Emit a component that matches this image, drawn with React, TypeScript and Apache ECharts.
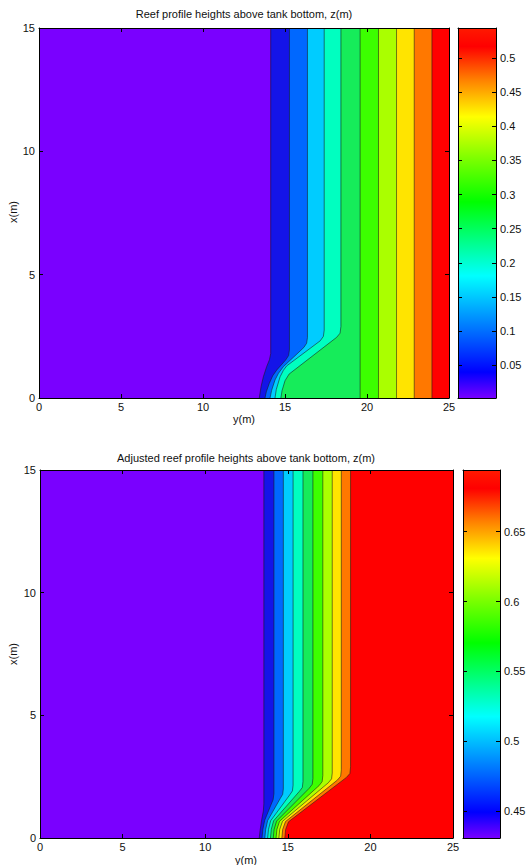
import React, { useEffect, useRef } from "react";
import * as echarts from "echarts";

// ---------- text ----------
const topTitle = "Reef profile heights above tank bottom, z(m)";
const bottomTitle = "Adjusted reef profile heights above tank bottom, z(m)";
const horizName = "y(m)";
const vertName = "x(m)";

// ---------- colours ----------
// fill colour of each band, from the lowest (below the first level) to the highest
const bandColors = [
  "#7a00ff", "#1414e8", "#0068ff", "#00ccff", "#00ffc0",
  "#16ec5a", "#3cff00", "#aaff00", "#ffe400", "#ff7800", "#ff0000",
];
// colormap of the colour bars (fraction of range, colour)
const colormapStops: [number, string][] = [
  [0, "#7800ff"], [0.07, "#0000ff"], [0.17, "#0064ff"], [0.33, "#00ffff"],
  [0.43, "#00ff80"], [0.53, "#00ff00"], [0.65, "#80ff00"], [0.76, "#ffff00"],
  [0.86, "#ff8000"], [0.95, "#ff0000"], [1, "#ff1a00"],
];

// ---------- top chart ----------
const topLevels = [0.05, 0.1, 0.15, 0.2, 0.25, 0.3, 0.35, 0.4, 0.45, 0.5];
const topRange = [0.002, 0.544];
const topBarTicks = [0.05, 0.1, 0.15, 0.2, 0.25, 0.3, 0.35, 0.4, 0.45, 0.5];
// contour lines as [y (horizontal), x (vertical)] points, from x = 0 to x = 15
const topContours: number[][][] = [
  [[13.43, 0], [13.54, 0.46], [13.68, 0.86], [13.88, 1.27], [14.05, 1.55], [14.13, 1.8], [14.13, 15]],
  [[13.78, 0], [13.86, 0.25], [14.04, 0.59], [14.25, 0.9], [14.49, 1.13], [15.05, 1.55], [15.22, 1.72], [15.27, 1.95], [15.27, 15]],
  [[14.09, 0], [14.18, 0.3], [14.39, 0.73], [14.6, 1.0], [14.9, 1.27], [16.15, 2.05], [16.32, 2.22], [16.37, 2.45], [16.37, 15]],
  [[14.39, 0], [14.47, 0.35], [14.7, 0.86], [14.9, 1.12], [15.1, 1.3], [17.15, 2.32], [17.34, 2.5], [17.39, 2.75], [17.39, 15]],
  [[14.75, 0], [14.82, 0.3], [15.0, 0.7], [15.25, 0.97], [18.15, 2.46], [18.36, 2.63], [18.41, 2.9], [18.41, 15]],
  [[19.58, 0], [19.58, 15]],
  [[20.7, 0], [20.7, 15]],
  [[21.8, 0], [21.8, 15]],
  [[22.88, 0], [22.88, 15]],
  [[23.96, 0], [23.96, 15]],
];

// ---------- bottom chart ----------
const bottomLevels = [0.45, 0.475, 0.5, 0.525, 0.55, 0.575, 0.6, 0.625, 0.65, 0.675];
const bottomRange = [0.431, 0.694];
const bottomBarTicks = [0.45, 0.5, 0.55, 0.6, 0.65];
const bottomContours: number[][][] = [
  [[13.27, 0], [13.32, 0.3], [13.42, 0.75], [13.52, 1.1], [13.55, 1.4], [13.55, 15]],
  [[13.44, 0], [13.49, 0.35], [13.6, 0.72], [13.98, 1.35], [14.11, 1.56], [14.16, 1.8], [14.16, 15]],
  [[13.61, 0], [13.66, 0.35], [13.78, 0.71], [14.55, 1.62], [14.69, 1.78], [14.73, 2.0], [14.73, 15]],
  [[13.78, 0], [13.83, 0.35], [13.96, 0.7], [15.12, 1.76], [15.28, 1.92], [15.32, 2.15], [15.32, 15]],
  [[13.95, 0], [14.0, 0.35], [14.14, 0.7], [15.7, 1.9], [15.88, 2.06], [15.92, 2.3], [15.92, 15]],
  [[14.12, 0], [14.17, 0.35], [14.32, 0.69], [16.3, 2.03], [16.48, 2.19], [16.52, 2.42], [16.52, 15]],
  [[14.29, 0], [14.34, 0.35], [14.5, 0.68], [16.9, 2.14], [17.08, 2.3], [17.12, 2.55], [17.12, 15]],
  [[14.46, 0], [14.51, 0.35], [14.68, 0.68], [17.45, 2.25], [17.65, 2.41], [17.69, 2.65], [17.69, 15]],
  [[14.64, 0], [14.69, 0.35], [14.86, 0.67], [18.0, 2.36], [18.2, 2.52], [18.24, 2.78], [18.24, 15]],
  [[14.82, 0], [14.87, 0.35], [15.04, 0.66], [18.55, 2.47], [18.76, 2.63], [18.8, 2.9], [18.8, 15]],
];

const FONT_FAMILY = '"Liberation Sans", Arial, Helvetica, sans-serif';
const TEXT_COLOR = "#111";

function mainX(gridIndex: number, position: "bottom" | "top", labels: boolean) {
  return {
    type: "value", gridIndex, position, min: 0, max: 25, interval: 5, z: 10,
    axisLine: { show: true, onZero: false, lineStyle: { color: "#000", width: 1 } },
    axisTick: { show: true, inside: true, length: 4, lineStyle: { color: "#000", width: 1 } },
    axisLabel: { show: labels, margin: 3, fontSize: 11, fontFamily: FONT_FAMILY, color: TEXT_COLOR },
    splitLine: { show: false },
  };
}
function mainY(gridIndex: number, position: "left" | "right", labels: boolean) {
  return {
    type: "value", gridIndex, position, min: 0, max: 15, interval: 5, z: 10,
    axisLine: { show: true, onZero: false, lineStyle: { color: "#000", width: 1 } },
    axisTick: { show: true, inside: true, length: 4, lineStyle: { color: "#000", width: 1 } },
    axisLabel: { show: labels, margin: 4, fontSize: 11, fontFamily: FONT_FAMILY, color: TEXT_COLOR },
    splitLine: { show: false },
  };
}
function barX(gridIndex: number, position: "bottom" | "top") {
  return {
    type: "value", gridIndex, position, min: 0, max: 1, z: 10,
    axisLine: { show: true, onZero: false, lineStyle: { color: "#000", width: 1 } },
    axisTick: { show: false }, axisLabel: { show: false }, splitLine: { show: false },
  };
}
function barY(gridIndex: number, position: "left" | "right", range: number[], ticks: number[], labels: boolean) {
  return {
    type: "value", gridIndex, position, min: range[0], max: range[1], z: 10,
    axisLine: { show: true, onZero: false, lineStyle: { color: "#000", width: 1 } },
    axisTick: { show: true, inside: true, length: 4, customValues: ticks, lineStyle: { color: "#000", width: 1 } },
    axisLabel: {
      show: labels, margin: 4, customValues: ticks, fontSize: 11, fontFamily: FONT_FAMILY, color: TEXT_COLOR,
      formatter: (v: number) => String(Math.round(v * 1000) / 1000),
    },
    splitLine: { show: false },
  };
}

function contourSeries(axisIndex: number, levels: number[], contours: number[][][]) {
  return {
    type: "custom", xAxisIndex: axisIndex, yAxisIndex: axisIndex, clip: true, z: 2,
    data: levels.map((lv, i) => [i, lv]),
    renderItem: (params: any, api: any) => {
      const i = api.value(0) as number;
      const pts = contours[i].map((p) => api.coord(p));
      const cs = params.coordSys;
      const below = cs.y + cs.height + 6;
      const above = cs.y - 6;
      const right = cs.x + cs.width + 6;
      const poly = [[pts[0][0], below], ...pts, [pts[pts.length - 1][0], above], [right, above], [right, below]];
      return {
        type: "polygon",
        shape: { points: poly },
        style: { fill: bandColors[i + 1], stroke: "rgba(25,25,25,0.8)", lineWidth: 0.7 },
      };
    },
  };
}

function colorbarSeries(xIndex: number, yIndex: number, range: number[]) {
  return {
    type: "custom", xAxisIndex: xIndex, yAxisIndex: yIndex, z: 2,
    data: [[0, range[0], 1, range[1]]],
    renderItem: (_params: any, api: any) => {
      const p0 = api.coord([api.value(0), api.value(1)]);
      const p1 = api.coord([api.value(2), api.value(3)]);
      return {
        type: "rect",
        shape: { x: p0[0], y: p1[1], width: p1[0] - p0[0], height: p0[1] - p1[1] },
        style: {
          fill: {
            type: "linear", x: 0, y: 1, x2: 0, y2: 0,
            colorStops: colormapStops.map(([offset, color]) => ({ offset, color })),
          },
        },
      };
    },
  };
}

function textEl(text: string, x: number, y: number, rotation = 0) {
  return {
    type: "text", x, y, rotation,
    style: {
      text, fill: TEXT_COLOR, font: `11px ${FONT_FAMILY}`,
      align: "center", verticalAlign: "middle", textAlign: "center", textVerticalAlign: "middle",
    },
  };
}

export default function App() {
  const ref = useRef<HTMLDivElement>(null);
  useEffect(() => {
    const chart = echarts.init(ref.current!, null, { renderer: "svg" });
    const gridBase = { show: true, backgroundColor: bandColors[0], borderWidth: 0, containLabel: false, outerBoundsMode: "none" };
    const option: any = {
      animation: false,
      backgroundColor: "#fff",
      grid: [
        { ...gridBase, left: 39, top: 28, width: 410, height: 370 },
        { ...gridBase, backgroundColor: "transparent", left: 458, top: 28, width: 38, height: 370 },
        { ...gridBase, left: 40, top: 470, width: 413, height: 368 },
        { ...gridBase, backgroundColor: "transparent", left: 463, top: 470, width: 37, height: 368 },
      ],
      xAxis: [
        mainX(0, "bottom", true), mainX(0, "top", false),
        barX(1, "bottom"), barX(1, "top"),
        mainX(2, "bottom", true), mainX(2, "top", false),
        barX(3, "bottom"), barX(3, "top"),
      ],
      yAxis: [
        mainY(0, "left", true), mainY(0, "right", false),
        barY(1, "left", topRange, topBarTicks, false), barY(1, "right", topRange, topBarTicks, true),
        mainY(2, "left", true), mainY(2, "right", false),
        barY(3, "left", bottomRange, bottomBarTicks, false), barY(3, "right", bottomRange, bottomBarTicks, true),
      ],
      series: [
        contourSeries(0, topLevels, topContours),
        colorbarSeries(2, 3, topRange),
        contourSeries(4, bottomLevels, bottomContours),
        colorbarSeries(6, 7, bottomRange),
      ],
      graphic: [
        textEl(topTitle, 244, 14),
        textEl(bottomTitle, 246, 458),
        textEl(horizName, 244, 419),
        textEl(horizName, 246, 860),
        textEl(vertName, 13, 212, Math.PI / 2),
        textEl(vertName, 13, 654, Math.PI / 2),
      ],
    };
    chart.setOption(option);
    return () => chart.dispose();
  }, []);
  return (
    <div
      ref={ref}
      style={{ position: "absolute", left: 0, top: 0, width: 526, height: 865, background: "#fff" }}
    />
  );
}
